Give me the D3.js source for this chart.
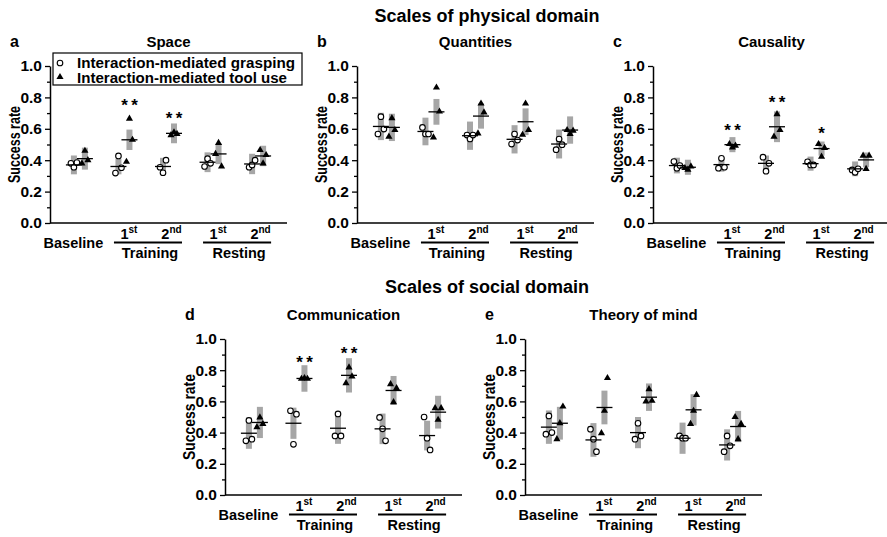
<!DOCTYPE html>
<html>
<head>
<meta charset="utf-8">
<script src="https://cdn.jsdelivr.net/npm/d3@7"></script>
<style>
body { margin: 0; background: #fff; }
text { font-family: "Liberation Sans", Arial, sans-serif; font-weight: bold; fill: #000; }
</style>
</head>
<body>
<svg id="fig" width="887" height="537"></svg>
<script>
// sessions on the x axis
var sessions = ["Baseline", "1st", "2nd", "1st", "2nd"];
var phases = [{name: "Training", from: 1, to: 2}, {name: "Resting", from: 3, to: 4}];
var legendNames = ["Interaction-mediated grasping", "Interaction-mediated tool use"];

// Space
var spaceGrasp = [[0.38, 0.355, 0.385], [0.318, 0.427, 0.352], [0.355, 0.32, 0.40], [0.36, 0.41, 0.38], [0.355, 0.37, 0.40]];
var spaceGraspMean = [0.37, 0.36, 0.36, 0.387, 0.376];
var spaceGraspErr = [0.06, 0.05, 0.055, 0.063, 0.065];
var spaceTool = [[0.38, 0.46, 0.40], [0.39, 0.665, 0.53], [0.56, 0.578, 0.567], [0.44, 0.51, 0.36], [0.465, 0.38, 0.433]];
var spaceToolMean = [0.41, 0.53, 0.571, 0.44, 0.427];
var spaceToolErr = [0.07, 0.065, 0.063, 0.065, 0.065];
var spaceSig = [[1, "**", 0.77], [2, "**", 0.69]];

// Quantities
var quantGrasp = [[0.567, 0.677, 0.598], [0.609, 0.567, 0.567], [0.56, 0.535, 0.56], [0.503, 0.567, 0.528], [0.467, 0.535, 0.499]];
var quantGraspMean = [0.615, 0.583, 0.556, 0.533, 0.503];
var quantGraspErr = [0.087, 0.088, 0.09, 0.09, 0.092];
var quantTool = [[0.55, 0.668, 0.592], [0.545, 0.863, 0.71], [0.571, 0.761, 0.704], [0.562, 0.761, 0.592], [0.592, 0.567, 0.588]];
var quantToolMean = [0.609, 0.708, 0.681, 0.645, 0.592];
var quantToolErr = [0.087, 0.082, 0.08, 0.085, 0.087];
var quantSig = [];

// Causality
var causGrasp = [[0.391, 0.349, 0.366], [0.349, 0.412, 0.355], [0.419, 0.33, 0.38], [0.39, 0.37, 0.37], [0.338, 0.323, 0.345]];
var causGraspMean = [0.366, 0.372, 0.38, 0.378, 0.345];
var causGraspErr = [0.05, 0.045, 0.05, 0.045, 0.047];
var causTool = [[0.35, 0.34, 0.36], [0.503, 0.482, 0.493], [0.55, 0.693, 0.592], [0.503, 0.423, 0.478], [0.429, 0.345, 0.429]];
var causToolMean = [0.355, 0.499, 0.613, 0.474, 0.402];
var causToolErr = [0.048, 0.048, 0.098, 0.045, 0.047];
var causSig = [[1, "**", 0.61], [2, "**", 0.79], [3, "*", 0.59]];

// Communication
var commGrasp = [[0.347, 0.478, 0.358], [0.54, 0.325, 0.518], [0.379, 0.52, 0.379], [0.497, 0.424, 0.347], [0.5, 0.364, 0.289]];
var commGraspMean = [0.396, 0.46, 0.428, 0.424, 0.381];
var commGraspErr = [0.1, 0.1, 0.1, 0.098, 0.095];
var commTool = [[0.435, 0.497, 0.456], [0.745, 0.75, 0.745], [0.717, 0.818, 0.76], [0.711, 0.595, 0.685], [0.557, 0.482, 0.557]];
var commToolMean = [0.465, 0.747, 0.767, 0.67, 0.531];
var commToolErr = [0.1, 0.085, 0.11, 0.093, 0.105];
var commSig = [[1, "**", 0.87], [2, "**", 0.927]];

// Theory of mind
var tomGrasp = [[0.39, 0.507, 0.40], [0.422, 0.358, 0.278], [0.358, 0.46, 0.379], [0.379, 0.364, 0.364], [0.278, 0.379, 0.315]];
var tomGraspMean = [0.435, 0.353, 0.4, 0.364, 0.321];
var tomGraspErr = [0.107, 0.108, 0.1, 0.1, 0.1];
var tomTool = [[0.358, 0.46, 0.567], [0.396, 0.54, 0.75], [0.6, 0.679, 0.604], [0.456, 0.54, 0.642], [0.5, 0.358, 0.456]];
var tomToolMean = [0.46, 0.561, 0.627, 0.546, 0.439];
var tomToolErr = [0.105, 0.108, 0.088, 0.1, 0.1];
var tomSig = [];

var panels = [
    {letter: "a", title: "Space", left: 50, top: 66, h: 157, ylen: 77, legend: true,
        grasp: spaceGrasp, graspMean: spaceGraspMean, graspErr: spaceGraspErr,
        tool: spaceTool, toolMean: spaceToolMean, toolErr: spaceToolErr, sig: spaceSig},
    {letter: "b", title: "Quantities", left: 357, top: 66, h: 157, ylen: 77,
        grasp: quantGrasp, graspMean: quantGraspMean, graspErr: quantGraspErr,
        tool: quantTool, toolMean: quantToolMean, toolErr: quantToolErr, sig: quantSig},
    {letter: "c", title: "Causality", left: 653, top: 66, h: 157, ylen: 77,
        grasp: causGrasp, graspMean: causGraspMean, graspErr: causGraspErr,
        tool: causTool, toolMean: causToolMean, toolErr: causToolErr, sig: causSig},
    {letter: "d", title: "Communication", left: 225, top: 339, h: 156, ylen: 86,
        grasp: commGrasp, graspMean: commGraspMean, graspErr: commGraspErr,
        tool: commTool, toolMean: commToolMean, toolErr: commToolErr, sig: commSig},
    {letter: "e", title: "Theory of mind", left: 525, top: 339, h: 156, ylen: 86,
        grasp: tomGrasp, graspMean: tomGraspMean, graspErr: tomGraspErr,
        tool: tomTool, toolMean: tomToolMean, toolErr: tomToolErr, sig: tomSig}
];

var svg = d3.select("#fig"),
        width = 237,
        grey = "#a6a6a6",
        jitter = [-3, 0, 3],
        pair = 5.5;

svg.append("text").attr("x", 487).attr("y", 22).attr("text-anchor", "middle")
        .style("font-size", "18px").text("Scales of physical domain");
svg.append("text").attr("x", 487).attr("y", 293).attr("text-anchor", "middle")
        .style("font-size", "18px").text("Scales of social domain");

var tri = d3.symbol().type(d3.symbolTriangle).size(22);

panels.forEach(function (p) {
    var x = d3.scalePoint().domain(d3.range(sessions.length)).range([0, width]).padding(0.66);
    var y = d3.scaleLinear().domain([0, 1]).range([p.h, 0]);

    var g = svg.append("g").attr("transform", "translate(" + p.left + "," + p.top + ")");

    g.append("text").attr("x", -40).attr("y", -19).style("font-size", "16px").text(p.letter);
    g.append("text").attr("x", width / 2).attr("y", -19).attr("text-anchor", "middle")
            .style("font-size", "15px").text(p.title);

    // y axis, minor ticks then major
    g.append("g").call(d3.axisLeft(y).tickValues(d3.range(0.1, 1, 0.2)).tickSize(3).tickFormat(""))
            .call(function (s) { s.select(".domain").remove(); s.selectAll("line").attr("stroke-width", 1.3); });
    var ya = g.append("g").call(d3.axisLeft(y).tickValues(d3.range(0, 1.01, 0.2)).tickSize(5).tickSizeOuter(0).tickPadding(3).tickFormat(d3.format(".1f")));
    ya.select(".domain").attr("stroke-width", 1.5);
    ya.selectAll("line").attr("stroke-width", 1.3);
    ya.selectAll("text").style("font-size", "15.5px");

    g.append("text").attr("transform", "translate(-30," + (p.h / 2) + ") rotate(-90)")
            .attr("text-anchor", "middle").attr("textLength", p.ylen).attr("lengthAdjust", "spacingAndGlyphs")
            .style("font-size", "16.5px").text("Success rate");

    g.append("line").attr("x1", 0).attr("x2", width).attr("y1", p.h).attr("y2", p.h)
            .attr("stroke", "#000").attr("stroke-width", 1.5);

    // session labels
    g.append("text").attr("x", x(0) - 6).attr("y", p.h + 25).attr("text-anchor", "middle")
            .style("font-size", "14.5px").text(sessions[0]);
    phases.forEach(function (ph) {
        var x0 = x(ph.from) - 10, x1 = x(ph.to) + 13.5;
        g.append("line").attr("x1", x0).attr("x2", x1).attr("y1", p.h + 19.5).attr("y2", p.h + 19.5)
                .attr("stroke", "#000").attr("stroke-width", 2);
        g.append("text").attr("x", (x0 + x1) / 2 + 2).attr("y", p.h + 35).attr("text-anchor", "middle")
                .style("font-size", "14.5px").text(ph.name);
        [[ph.from, x0 + 15], [ph.to, x1 - 10.5]].forEach(function (s) {
            var t = g.append("text").attr("x", s[1]).attr("y", p.h + 16).attr("text-anchor", "middle")
                    .style("font-size", "14.5px");
            t.append("tspan").text(sessions[s[0]].slice(0, 1));
            t.append("tspan").attr("dy", -6).style("font-size", "10px").text(sessions[s[0]].slice(1));
        });
    });

    // grey bars (mean +/- error)
    function bars(means, errs, dx) {
        g.selectAll(null).data(means).enter().append("rect")
                .attr("x", function (d, i) { return x(i) + dx - 3; })
                .attr("width", 6)
                .attr("y", function (d, i) { return y(d + errs[i]); })
                .attr("height", function (d, i) { return y(d - errs[i]) - y(d + errs[i]); })
                .attr("fill", grey);
    }
    bars(p.graspMean, p.graspErr, -pair);
    bars(p.toolMean, p.toolErr, pair);

    p.grasp.forEach(function (pts, i) {
        g.selectAll(null).data(pts).enter().append("circle")
                .attr("cx", function (d, j) { return x(i) - pair + jitter[j]; })
                .attr("cy", function (d) { return y(d); })
                .attr("r", 2.8)
                .attr("fill", "#fff").attr("stroke", "#000").attr("stroke-width", 1.1);
    });
    p.tool.forEach(function (pts, i) {
        g.selectAll(null).data(pts).enter().append("path")
                .attr("d", tri)
                .attr("transform", function (d, j) { return "translate(" + (x(i) + pair + jitter[j]) + "," + y(d) + ")"; })
                .attr("fill", "#000");
    });

    // mean lines
    function means(vals, dx) {
        g.selectAll(null).data(vals).enter().append("line")
                .attr("x1", function (d, i) { return x(i) + dx - 8; })
                .attr("x2", function (d, i) { return x(i) + dx + 8; })
                .attr("y1", function (d) { return y(d); })
                .attr("y2", function (d) { return y(d); })
                .attr("stroke", "#000").attr("stroke-width", 1.3);
    }
    means(p.graspMean, -pair);
    means(p.toolMean, pair);

    g.selectAll(null).data(p.sig).enter().append("text")
            .attr("x", function (d) { return x(d[0]) + pair; })
            .attr("y", function (d) { return y(d[2]) + 9; })
            .attr("text-anchor", "middle")
            .attr("fill", "#000")
            .style("font-size", "17px")
            .text(function (d) { return d[1].split("").join("\u2009"); });

    if (p.legend) {
        var lg = g.append("g").attr("transform", "translate(3,-13)");
        lg.append("rect").attr("width", 249).attr("height", 32)
                .attr("fill", "#fff").attr("stroke", "#000").attr("stroke-width", 1.2);
        lg.append("circle").attr("cx", 7).attr("cy", 10).attr("r", 2.8)
                .attr("fill", "#fff").attr("stroke", "#000").attr("stroke-width", 1.1);
        lg.append("path").attr("d", tri).attr("transform", "translate(7,24)");
        lg.selectAll(null).data(legendNames).enter().append("text")
                .attr("x", 24).attr("y", function (d, i) { return 15 + i * 14.5; })
                .attr("textLength", function (d, i) { return i ? 210 : 218; })
                .attr("lengthAdjust", "spacingAndGlyphs")
                .style("font-size", "14px").text(function (d) { return d; });
    }
});
</script>
</body>
</html>
